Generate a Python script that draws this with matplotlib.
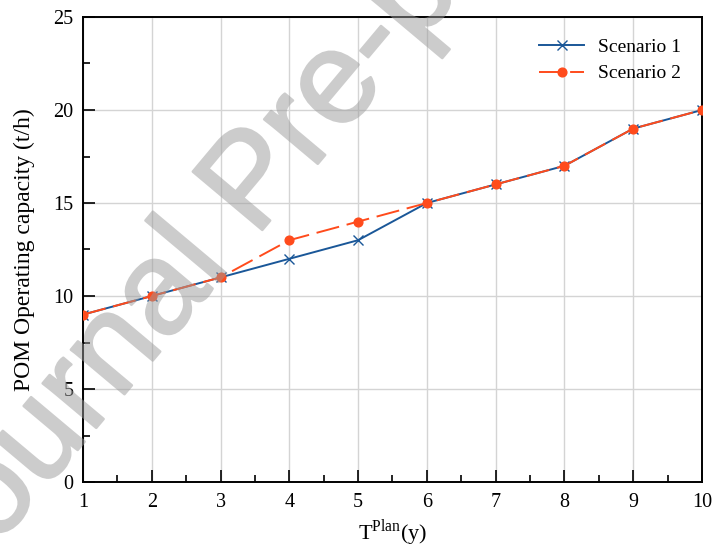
import numpy as np
import matplotlib
matplotlib.use("Agg")
import matplotlib.pyplot as plt
import matplotlib.patheffects as pe
from matplotlib.ticker import MultipleLocator

# data
years = [1, 2, 3, 4, 5, 6, 7, 8, 9, 10]
scenario1 = [9, 10, 11, 12, 13, 15, 16, 17, 19, 20]
scenario2 = [9, 10, 11, 13, 14, 15, 16, 17, 19, 20]

plt.rcParams['font.family'] = ['Liberation Serif', 'DejaVu Serif']
plt.rcParams['mathtext.fontset'] = 'custom'
plt.rcParams['mathtext.rm'] = 'Liberation Serif'

fig = plt.figure(figsize=(7.13, 5.44), dpi=100)
ax = fig.add_axes([83/713, 1 - 482/544, (702-83)/713, (482-17)/544])

blue = '#1a5798'
orange = '#ff4b1c'

ax.plot(years, scenario1, color=blue, lw=1.4, marker='x', ms=6.5, mew=1.0,
        label='Scenario 1', zorder=3)
ax.plot(years, scenario2, color=orange, lw=1.4, ls=(0, (12, 4)), marker='o', ms=6.3,
        label='Scenario 2', zorder=4)

ax.set_xlim(1, 10)
ax.set_ylim(0, 25)
ax.xaxis.set_major_locator(MultipleLocator(1))
ax.xaxis.set_minor_locator(MultipleLocator(0.5))
ax.yaxis.set_major_locator(MultipleLocator(5))
ax.yaxis.set_minor_locator(MultipleLocator(2.5))
ax.tick_params(which='both', direction='in', top=False, right=False,
               labelsize=14.5, width=1.2)
ax.tick_params(which='major', length=8.5)
ax.tick_params(which='minor', length=5)
ax.tick_params(axis='x', pad=8)
ax.tick_params(axis='y', pad=7)

ax.grid(True, which='major', color='#d4d4d4', lw=1.0)
for s in ax.spines.values():
    s.set_linewidth(1.4)

ax.set_xlabel(r'T$^{\mathrm{Plan}}$(y)', fontsize=16, labelpad=4)
ax.set_ylabel('POM Operating capacity (t/h)', fontsize=17, labelpad=13)

leg = ax.legend(loc='upper right', fontsize=14, frameon=False,
                handlelength=2.3, handletextpad=0.7, borderaxespad=0.8,
                labelspacing=0.45, borderpad=0.3)


# watermark of the source page: opaque glyphs, faded as one layer
def fade(img, dpi):
    img = img.copy()
    img[..., 3] *= 0.5
    return img, 0, 0


wm_grey = '#9a9a9a'
wm = fig.text(255/713, 1 - 185/544, 'Journal Pre-proof', fontsize=95, color=wm_grey,
              family='Liberation Sans', rotation=50,
              ha='center', va='center', rotation_mode='anchor', zorder=10)
wm.set_path_effects([pe.Stroke(linewidth=1.8, foreground=wm_grey), pe.Normal()])
wm.set_agg_filter(fade)

fig.savefig('out.png', dpi=100)
